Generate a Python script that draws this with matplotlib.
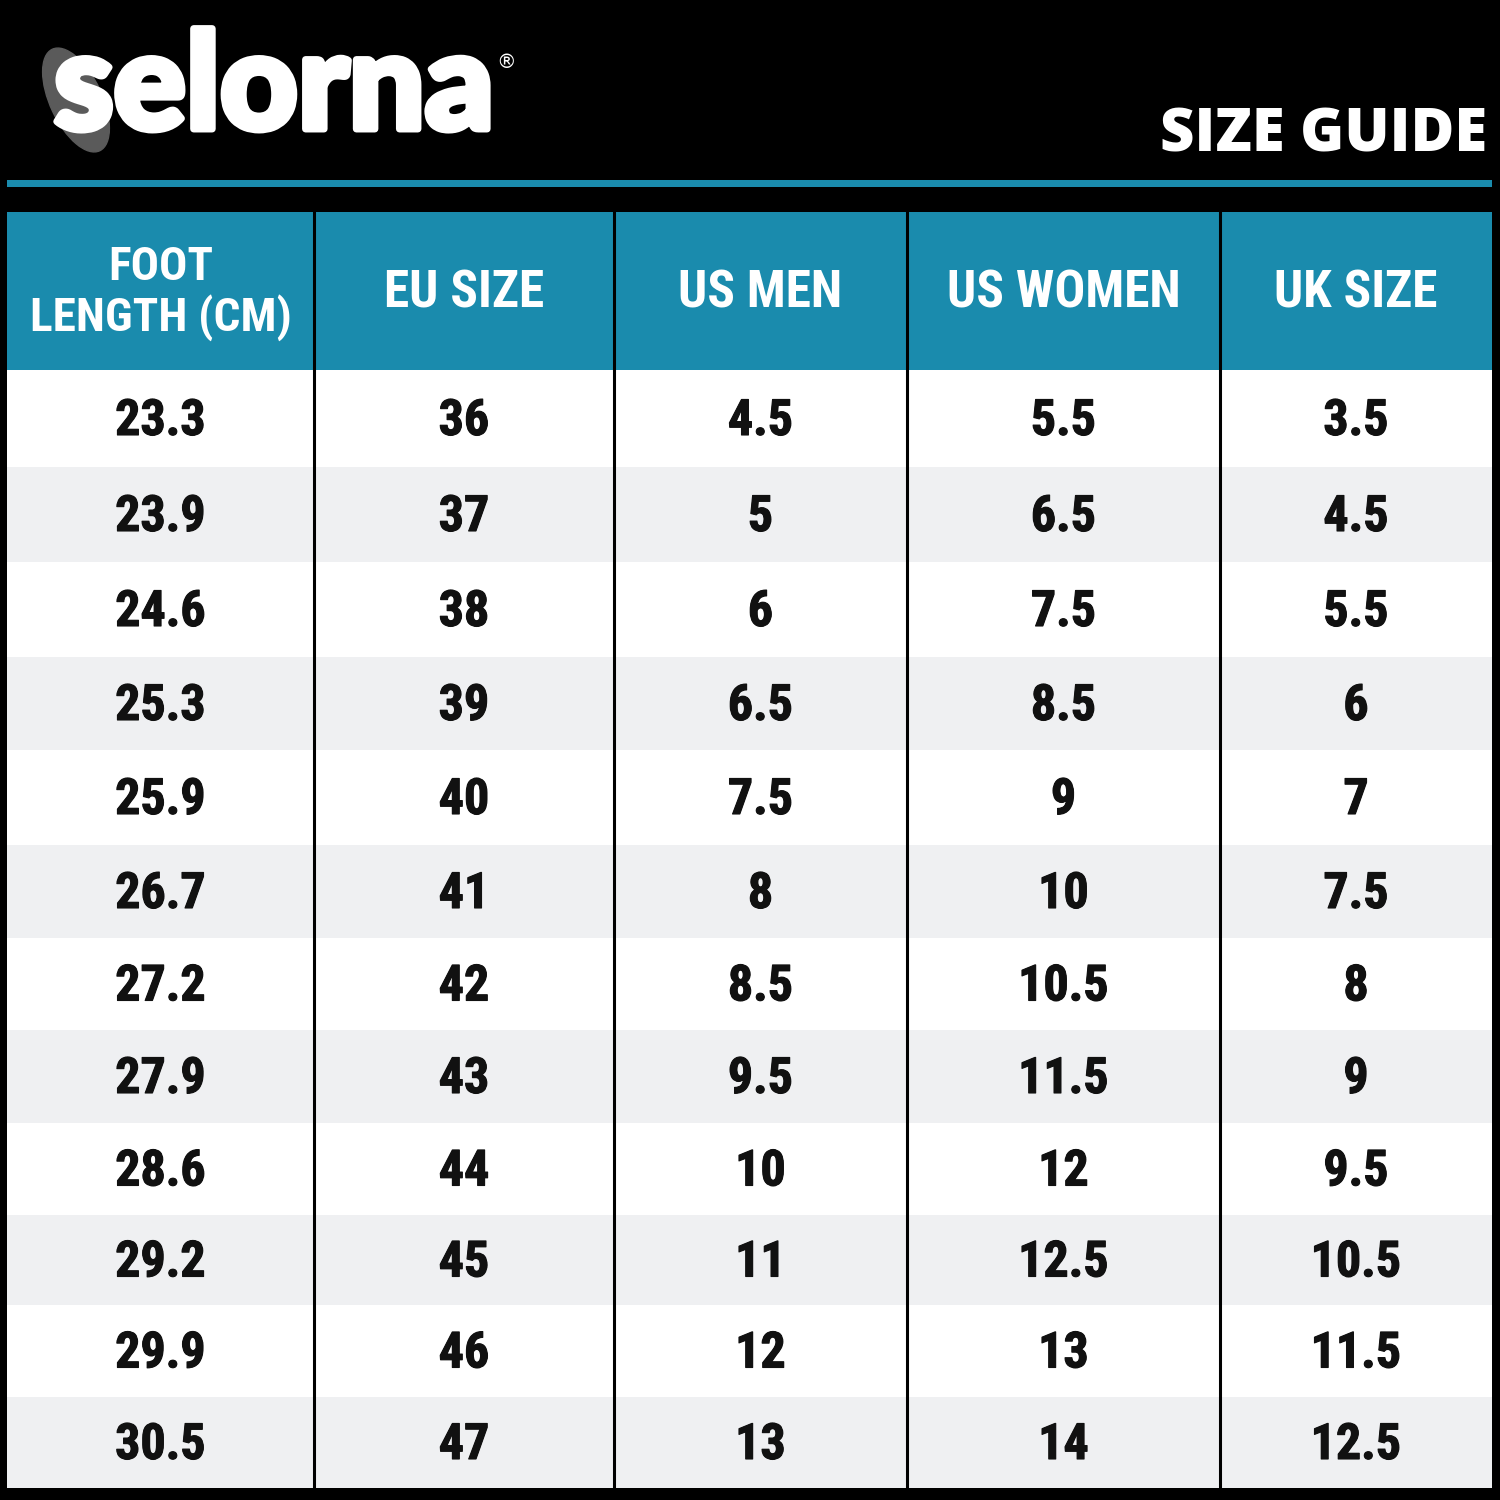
import matplotlib
matplotlib.use("Agg")
import matplotlib.pyplot as plt
import matplotlib.patheffects as pe
from matplotlib import font_manager
from matplotlib.patches import Rectangle, Ellipse

# --- DATA ---
headers = ["FOOT\nLENGTH (CM)", "EU SIZE", "US MEN", "US WOMEN", "UK SIZE"]
foot_cm = ["23.3", "23.9", "24.6", "25.3", "25.9", "26.7", "27.2", "27.9", "28.6", "29.2", "29.9", "30.5"]
eu_size = ["36", "37", "38", "39", "40", "41", "42", "43", "44", "45", "46", "47"]
us_men = ["4.5", "5", "6", "6.5", "7.5", "8", "8.5", "9.5", "10", "11", "12", "13"]
us_women = ["5.5", "6.5", "7.5", "8.5", "9", "10", "10.5", "11.5", "12", "12.5", "13", "14"]
uk_size = ["3.5", "4.5", "5.5", "6", "7", "7.5", "8", "9", "9.5", "10.5", "11.5", "12.5"]
columns = [foot_cm, eu_size, us_men, us_women, uk_size]

# --- STYLE ---
TEAL = "#1a8bad"
ROW_GRAY = "#eff0f2"
names = {f.name for f in font_manager.fontManager.ttflist}
cond = "Roboto"
for cand in ["Roboto Condensed", "Liberation Sans Narrow", "Arial Narrow", "DejaVu Sans Condensed"]:
    if cand in names:
        cond = cand
        break

# layout in pixel coordinates
col_edges = [7, 314, 614, 907, 1220, 1492]
head_top = 212
row_edges = [370, 467, 562, 657, 750, 845, 938, 1030, 1123, 1215, 1305, 1397, 1488]
head_bot, table_bot = row_edges[0], row_edges[-1]

fig = plt.figure(figsize=(15, 15), dpi=100)
fig.patch.set_facecolor("black")
ax = fig.add_axes([0, 0, 1, 1])
ax.set_xlim(0, 1500)
ax.set_ylim(1500, 0)
ax.axis("off")

# --- LOGO ---
ax.add_patch(Ellipse((76, 100), 52, 112, angle=-25, color="#5a5a5a", zorder=1))
ax.text(54, 129, "selorna", color="white", fontsize=97, family="Lato", weight="black",
        ha="left", va="baseline", zorder=2,
        path_effects=[pe.withStroke(linewidth=5, foreground="white")])
ax.text(506, 63, "®", color="white", fontsize=14, ha="center", va="center", zorder=2)
ax.text(1487, 152, "SIZE GUIDE", color="white", fontsize=43, family="Open Sans", weight="extra bold",
        ha="right", va="baseline")

# teal stripe
ax.add_patch(Rectangle((7, 180), 1485, 7, color=TEAL, lw=0))

# --- HEADER ROW ---
ax.add_patch(Rectangle((col_edges[0], head_top), col_edges[-1] - col_edges[0], head_bot - head_top,
                       color=TEAL, lw=0))
for i, h in enumerate(headers):
    cx = (col_edges[i] + col_edges[i + 1]) / 2
    ax.text(cx, (head_top + head_bot) / 2 + 2, h, color="white", fontsize=34 if i == 0 else 37,
            family=cond, weight="bold", ha="center", va="center", linespacing=1.15)

# --- BODY ROWS ---
for r in range(len(foot_cm)):
    y0, y1 = row_edges[r], row_edges[r + 1]
    ax.add_patch(Rectangle((col_edges[0], y0), col_edges[-1] - col_edges[0], y1 - y0,
                           color="white" if r % 2 == 0 else ROW_GRAY, lw=0))
    for c, vals in enumerate(columns):
        cx = (col_edges[c] + col_edges[c + 1]) / 2
        ax.text(cx, (y0 + y1) / 2 + 3, vals[r], color="#111111", fontsize=36, family=cond,
                weight="bold", ha="center", va="center",
                path_effects=[pe.withStroke(linewidth=0.8, foreground="#111111")])

# column dividers
for x in col_edges[1:-1]:
    ax.plot([x, x], [head_top, table_bot], color="black", lw=2.2)

fig.savefig("out.png", dpi=100, facecolor="black")
